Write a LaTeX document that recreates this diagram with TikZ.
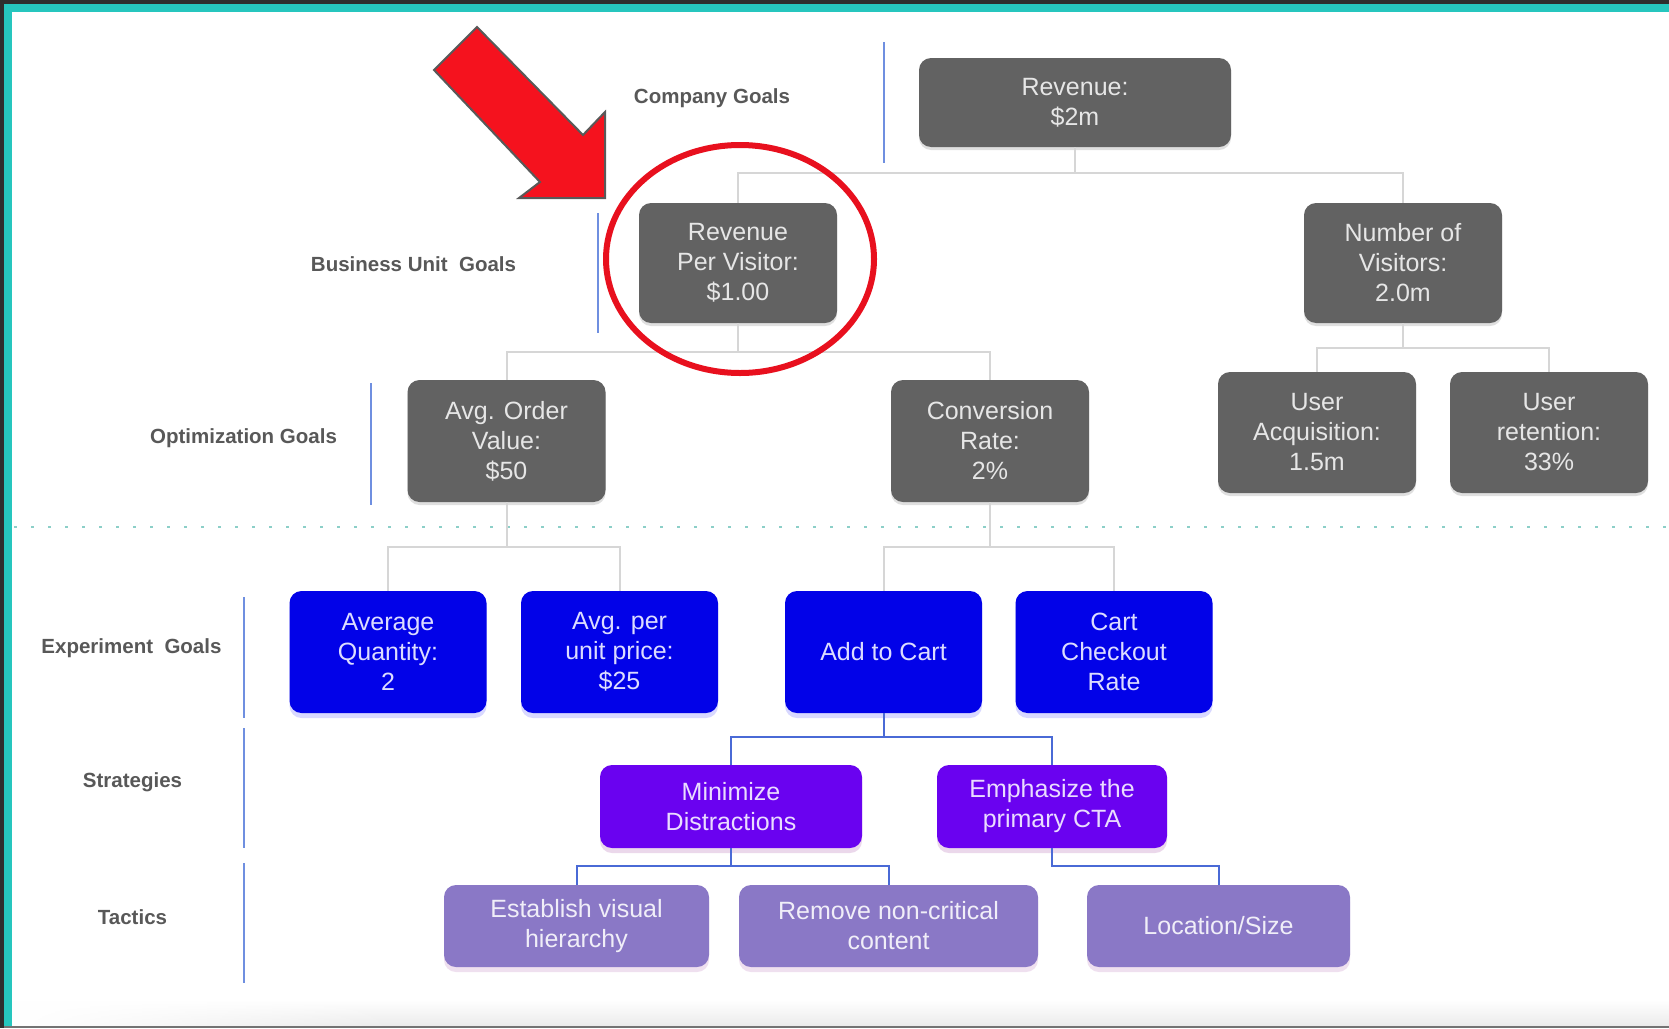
\documentclass[tikz,border=0pt]{standalone}
\usepackage{fontspec}
\setmainfont{Liberation Sans}
\usetikzlibrary{shadows,fadings}
\definecolor{frame}{HTML}{2E2E2E}
\definecolor{teal}{HTML}{26C6BE}
\definecolor{boxgray}{HTML}{626262}
\definecolor{gtext}{HTML}{E6E6E6}
\definecolor{bluebox}{HTML}{0202E8}
\definecolor{btext}{HTML}{DCDCFF}
\definecolor{purplebox}{HTML}{6A02F0}
\definecolor{ptext}{HTML}{EADCFF}
\definecolor{lavbox}{HTML}{8A78C6}
\definecolor{ltext}{HTML}{F0EEF8}
\definecolor{conngray}{HTML}{D6D6D6}
\definecolor{connblue}{HTML}{4A6AD6}
\definecolor{labline}{HTML}{6F8FE0}
\definecolor{labtext}{HTML}{585858}
\definecolor{dotteal}{HTML}{8CCFC8}
\definecolor{arrowred}{HTML}{F5121E}
\definecolor{ringred}{HTML}{E8101E}
\tikzfading[name=fadeinleft, left color=transparent!100, right color=transparent!0]
\begin{document}
\begin{tikzpicture}[x=1pt,y=-1pt,
  box/.style={rounded corners=12pt, align=center, inner sep=0pt,
    font=\fontsize{25}{30}\selectfont},
  gbox/.style={box, fill=boxgray, text=gtext, minimum width=198pt, minimum height=120pt,
    drop shadow={shadow xshift=0pt, shadow yshift=-3pt, fill=gray, opacity=0.25}},
  bbox/.style={box, fill=bluebox, text=btext, minimum width=197pt, minimum height=122pt,
    drop shadow={shadow xshift=0pt, shadow yshift=-5pt, fill=blue!50, opacity=0.3}},
  pbox/.style={box, fill=purplebox, text=ptext, minimum height=83pt,
    drop shadow={shadow xshift=0pt, shadow yshift=-5pt, fill=violet!50, opacity=0.3}},
  lbox/.style={box, fill=lavbox, text=ltext, minimum height=82pt,
    drop shadow={shadow xshift=0pt, shadow yshift=-5pt, fill=violet!40, opacity=0.3}},
  gconn/.style={draw=conngray, line width=2pt},
  bconn/.style={draw=connblue, line width=2pt},
  lab/.style={text=labtext, font=\fontsize{20.5}{24}\selectfont\bfseries, inner sep=0pt},
  labbar/.style={draw=labline, line width=2.5pt}
]
\useasboundingbox (0,0) rectangle (1669,1028);
% background and frame
\fill[white] (0,0) rectangle (1669,1028);
\shade[top color=white, bottom color=black!8, path fading=fadeinleft] (12,1000) rectangle (400,1026);
\shade[top color=white, bottom color=black!8] (399.5,1000) rectangle (1669,1026);
\fill[black!55] (0,1026) rectangle (1669,1028);
\fill[frame] (0,0) rectangle (1669,4);
\fill[frame] (0,0) rectangle (3.5,1028);
\fill[teal] (3.5,4) rectangle (1669,12);
\fill[teal] (3.5,4) rectangle (12,1026);

% dotted separator
\draw[dotteal, line width=2.5pt, dash pattern=on 2.5pt off 14.5pt] (14,527) -- (1669,527);

% level labels
\node[lab] (lcomp) at (712,98) {Company Goals};
\node[lab] (lbu) at (413.5,264) {Business Unit\ \ Goals};
\node[lab] (lopt) at (243.5,438) {Optimization Goals};
\node[lab] (lexp) at (131.5,648) {Experiment\ \ Goals};
\node[lab] (lstr) at (132.5,782) {Strategies};
\node[lab] (ltac) at (132.5,917) {Tactics};
\draw[labbar] (884,42) -- (884,163);
\draw[labbar] (598,213) -- (598,333);
\draw[labbar] (371,383) -- (371,505);
\draw[labbar] (244,597) -- (244,718);
\draw[labbar] (244,728) -- (244,848);
\draw[labbar] (244,863) -- (244,983);

% boxes
\node[gbox, minimum width=312pt, minimum height=89pt] (rev) at (1075,102.5) {Revenue:\\\$2m};
\node[gbox] (rpv) at (738,263) {Revenue\\Per Visitor:\\\$1.00};
\node[gbox] (nov) at (1403,263) {Number of\\Visitors:\\2.0m};
\node[gbox, minimum height=122pt] (aov) at (506.5,441) {Avg. Order\\Value:\\\$50};
\node[gbox, minimum height=122pt] (cr) at (990,441) {Conversion\\Rate:\\2\%};
\node[gbox, minimum height=121pt] (ua) at (1317,432.5) {User\\Acquisition:\\1.5m};
\node[gbox, minimum height=121pt] (ur) at (1549,432.5) {User\\retention:\\33\%};

\node[bbox] (aq) at (388,652) {Average\\Quantity:\\2};
\node[bbox] (apu) at (619.5,652) {Avg. per\\unit price:\\\$25};
\node[bbox] (atc) at (883.5,652) {Add to Cart};
\node[bbox] (ccr) at (1114,652) {Cart\\Checkout\\Rate};

\node[pbox, minimum width=262pt] (md) at (731,806.5) {Minimize\\Distractions};
\node[pbox, minimum width=230pt] (emph) at (1052,806.5) {Emphasize the\\primary CTA};

\node[lbox, minimum width=265pt] (evh) at (576.5,926) {Establish visual\\hierarchy};
\node[lbox, minimum width=299pt] (rnc) at (888.5,926) {Remove non-critical\\content};
\node[lbox, minimum width=263pt] (loc) at (1218.5,926) {Location/Size};

% bus coordinates
\coordinate (b1) at (1075,173);
\coordinate (b2) at (738,352);
\coordinate (b3) at (1403,348);
\coordinate (b4) at (506.5,547);
\coordinate (b5) at (990,547);
\coordinate (b6) at (883.5,737);
\coordinate (b7) at (731,866);
\coordinate (b8) at (1052,866);

% connectors
\draw[gconn] (rev.south) -- (b1);
\draw[gconn] (rpv.north) |- (b1) -| (nov.north);
\draw[gconn] (rpv.south) -- (b2);
\draw[gconn] (aov.north) |- (b2) -| (cr.north);
\draw[gconn] (nov.south) -- (b3);
\draw[gconn] (ua.north) |- (b3) -| (ur.north);
\draw[gconn] (aov.south) -- (b4);
\draw[gconn] (aq.north) |- (b4) -| (apu.north);
\draw[gconn] (cr.south) -- (b5);
\draw[gconn] (atc.north) |- (b5) -| (ccr.north);
\draw[bconn] (atc.south) -- (b6);
\draw[bconn] (md.north) |- (b6) -| (emph.north);
\draw[bconn] (md.south) -- (b7);
\draw[bconn] (evh.north) |- (b7) -| (rnc.north);
\draw[bconn] (emph.south) -- (b8) -| (loc.north);

% annotation arrow and ring
\draw[draw=black!65, line width=2pt, fill=arrowred, line join=miter]
  (477,27) -- (434,70) -- (540,182) -- (519,198) -- (605,198) -- (605,112) -- (583,135) -- cycle;
\draw[ringred, line width=6pt] (740,259) ellipse [x radius=134pt, y radius=114pt];
\end{tikzpicture}
\end{document}
